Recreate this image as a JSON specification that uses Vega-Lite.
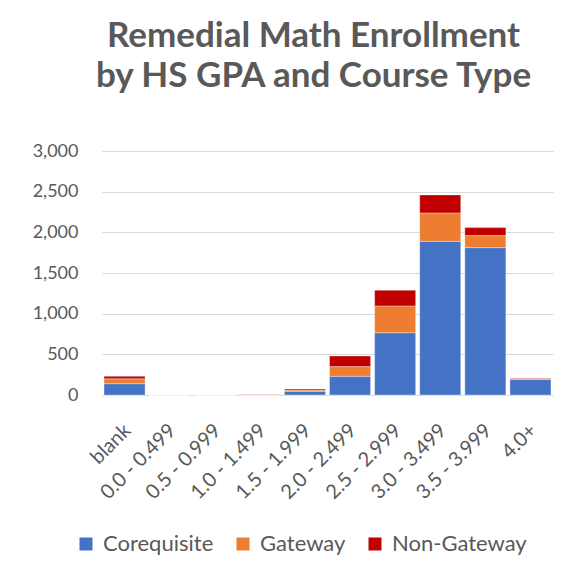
{
  "$schema": "https://vega.github.io/schema/vega-lite/v6.json",
  "width": 451,
  "height": 244,
  "autosize": "none",
  "padding": {"left": 102, "top": 151, "right": 27, "bottom": 182},
  "background": "white",
  "title": {
    "text": ["Remedial Math Enrollment", "by HS GPA and Course Type"],
    "font": "Lato",
    "fontSize": 35,
    "fontWeight": "bold",
    "color": "#595959",
    "anchor": "middle",
    "frame": "group",
    "dx": -14,
    "offset": 48,
    "lineHeight": 40
  },
  "data": {
    "values": [
      {"gpa": "blank", "type": "Corequisite", "count": 139},
      {"gpa": "blank", "type": "Gateway", "count": 61},
      {"gpa": "blank", "type": "Non-Gateway", "count": 30},
      {"gpa": "0.0 - 0.499", "type": "Corequisite", "count": 0},
      {"gpa": "0.0 - 0.499", "type": "Gateway", "count": 0},
      {"gpa": "0.0 - 0.499", "type": "Non-Gateway", "count": 0},
      {"gpa": "0.5 - 0.999", "type": "Corequisite", "count": 0},
      {"gpa": "0.5 - 0.999", "type": "Gateway", "count": 0},
      {"gpa": "0.5 - 0.999", "type": "Non-Gateway", "count": 0},
      {"gpa": "1.0 - 1.499", "type": "Corequisite", "count": 1},
      {"gpa": "1.0 - 1.499", "type": "Gateway", "count": 1},
      {"gpa": "1.0 - 1.499", "type": "Non-Gateway", "count": 3},
      {"gpa": "1.5 - 1.999", "type": "Corequisite", "count": 45},
      {"gpa": "1.5 - 1.999", "type": "Gateway", "count": 16},
      {"gpa": "1.5 - 1.999", "type": "Non-Gateway", "count": 13},
      {"gpa": "2.0 - 2.499", "type": "Corequisite", "count": 230},
      {"gpa": "2.0 - 2.499", "type": "Gateway", "count": 119},
      {"gpa": "2.0 - 2.499", "type": "Non-Gateway", "count": 131},
      {"gpa": "2.5 - 2.999", "type": "Corequisite", "count": 766},
      {"gpa": "2.5 - 2.999", "type": "Gateway", "count": 329},
      {"gpa": "2.5 - 2.999", "type": "Non-Gateway", "count": 193},
      {"gpa": "3.0 - 3.499", "type": "Corequisite", "count": 1890},
      {"gpa": "3.0 - 3.499", "type": "Gateway", "count": 349},
      {"gpa": "3.0 - 3.499", "type": "Non-Gateway", "count": 221},
      {"gpa": "3.5 - 3.999", "type": "Corequisite", "count": 1812},
      {"gpa": "3.5 - 3.999", "type": "Gateway", "count": 148},
      {"gpa": "3.5 - 3.999", "type": "Non-Gateway", "count": 98},
      {"gpa": "4.0+", "type": "Corequisite", "count": 190},
      {"gpa": "4.0+", "type": "Gateway", "count": 14},
      {"gpa": "4.0+", "type": "Non-Gateway", "count": 5}
    ]
  },
  "mark": {"type": "bar", "stroke": "white", "strokeWidth": 0.7, "strokeOpacity": 0.5},
  "encoding": {
    "x": {
      "field": "gpa",
      "type": "nominal",
      "sort": null,
      "scale": {"paddingInner": 0.09, "paddingOuter": 0.045},
      "axis": {
        "title": null,
        "labelAngle": -45,
        "labelFont": "Lato",
        "labelFontSize": 20,
        "labelColor": "#595959",
        "domainColor": "#d9d9d9",
        "domainWidth": 1,
        "ticks": false,
        "labelPadding": 25,
        "labelOffset": -4
      }
    },
    "y": {
      "field": "count",
      "type": "quantitative",
      "aggregate": "sum",
      "stack": "zero",
      "scale": {"domain": [0, 3000]},
      "axis": {
        "title": null,
        "values": [0, 500, 1000, 1500, 2000, 2500, 3000],
        "format": ",d",
        "labelFont": "Lato",
        "labelFontSize": 18,
        "labelColor": "#595959",
        "labelPadding": 24,
        "domain": false,
        "ticks": false,
        "gridColor": "#d9d9d9",
        "gridWidth": 1
      }
    },
    "order": {"field": "type", "type": "nominal", "sort": "ascending"},
    "color": {
      "field": "type",
      "type": "nominal",
      "scale": {
        "domain": ["Corequisite", "Gateway", "Non-Gateway"],
        "range": ["#4472c4", "#ed7d31", "#c00000"]
      },
      "legend": {
        "title": null,
        "orient": "none",
        "legendX": -27,
        "legendY": 382,
        "direction": "horizontal",
        "symbolType": "square",
        "symbolSize": 169,
        "symbolStrokeWidth": 0,
        "labelFont": "Lato",
        "labelFontSize": 22,
        "labelColor": "#595959",
        "labelOffset": 6,
        "columnPadding": 18
      }
    }
  },
  "config": {"view": {"stroke": null}}
}
